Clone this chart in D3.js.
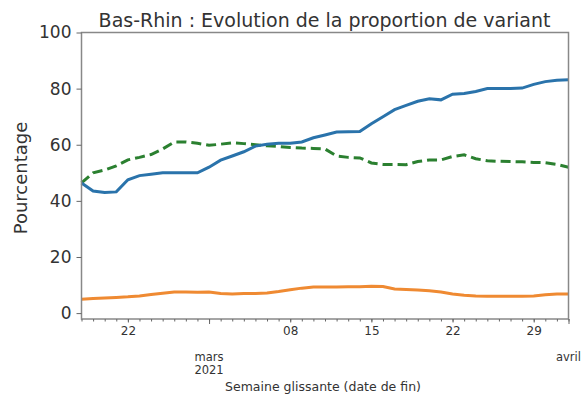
<!DOCTYPE html>
<html><head><meta charset="utf-8">
<script src="https://cdn.jsdelivr.net/npm/d3@7"></script>
<style>body{margin:0;background:#fff}svg{display:block}text{font-family:"DejaVu Sans",sans-serif;fill:#333}</style>
</head><body><svg id="c" width="587" height="400"></svg>
<script>
const startDate = "2021-02-18";
const endDate = "2021-04-01";
const blue = [46.4,43.5,43.0,43.2,47.5,49.0,49.5,50.0,50.0,50.0,50.0,52.0,54.5,56.0,57.5,59.5,60.2,60.5,60.5,61.0,62.5,63.5,64.5,64.6,64.7,67.5,70.0,72.5,74.0,75.5,76.4,76.0,78.0,78.3,79.0,80.0,80.0,80.0,80.2,81.5,82.5,83.0,83.2];
const green = [46.4,50.0,51.0,52.5,54.6,55.5,56.5,58.5,61.0,61.0,60.5,59.8,60.2,60.7,60.4,60.0,59.6,59.4,59.0,58.8,58.7,58.5,56.0,55.5,55.3,53.5,53.0,53.0,52.9,54.0,54.6,54.6,55.8,56.4,55.0,54.3,54.1,54.0,53.9,53.7,53.6,53.0,52.0];
const orange = [4.9,5.2,5.4,5.6,5.8,6.1,6.6,7.1,7.5,7.5,7.4,7.5,7.0,6.8,7.0,7.0,7.2,7.7,8.3,8.9,9.3,9.3,9.3,9.4,9.4,9.6,9.5,8.6,8.4,8.2,8.0,7.5,6.8,6.4,6.1,6.0,6.0,6.0,6.0,6.1,6.5,6.8,6.8];
const yTicks = [0,20,40,60,80,100];
const dayTickDates = ["2021-02-22","2021-03-08","2021-03-15","2021-03-22","2021-03-29"];
const monthTickDates = ["2021-03-01","2021-04-01"];
const monthLabels = [["mars","2021"],["avril"]];
const title = "Bas-Rhin : Evolution de la proportion de variant";
const yLabel = "Pourcentage";
const xLabel = "Semaine glissante (date de fin)";

const parse = d3.utcParse("%Y-%m-%d");
const t0 = parse(startDate);
const dates = blue.map((_, i) => d3.utcDay.offset(t0, i));
const svg = d3.select("#c");
const L = 81.5, R = 568.5, T = 32.5, B = 319;
const x = d3.scaleUtc().domain([t0, parse(endDate)]).range([L, R]);
const y = d3.scaleLinear().domain([-2.1, 100]).range([B, T]);

// lines
const line = d3.line().x((d, i) => x(dates[i])).y(d => y(d)).curve(d3.curveLinear);
const g = svg.append("g");
g.append("path").attr("d", line(orange)).attr("fill","none").attr("stroke","#ef8a32").attr("stroke-width",3);
g.append("path").attr("d", line(green)).attr("fill","none").attr("stroke","#2b8030").attr("stroke-width",3).attr("stroke-dasharray","10,5");
g.append("path").attr("d", line(blue)).attr("fill","none").attr("stroke","#2a73ab").attr("stroke-width",3);

// frame
svg.append("rect").attr("x",L).attr("y",T).attr("width",R-L).attr("height",B-T).attr("fill","none").attr("stroke","#888").attr("stroke-width",1.5);

// y axis
const ya = svg.append("g").attr("transform",`translate(${L},0)`)
  .call(d3.axisLeft(y).tickValues(yTicks).tickSize(5).tickPadding(5));
ya.select(".domain").remove();
ya.selectAll("line").attr("stroke","#666");
ya.selectAll("text").style("font-size","17px").attr("fill","#333");

// x axis minor daily ticks
const xa = svg.append("g").attr("transform",`translate(0,${B})`)
  .call(d3.axisBottom(x).ticks(d3.utcDay.every(1)).tickSize(2.5).tickFormat(""));
xa.select(".domain").remove();
xa.selectAll("line").attr("stroke","#666");
// day labels
const xd = svg.append("g").attr("transform",`translate(0,${B})`)
  .call(d3.axisBottom(x).tickValues(dayTickDates.map(parse)).tickSize(3.5).tickPadding(4).tickFormat(d3.utcFormat("%d")));
xd.select(".domain").remove();
xd.selectAll("line").attr("stroke","#666");
xd.selectAll("text").style("font-size","12px").attr("fill","#444");
// month labels
const xm = svg.append("g").attr("transform",`translate(0,${B})`)
  .call(d3.axisBottom(x).tickValues(monthTickDates.map(parse)).tickSize(5).tickFormat(""));
xm.select(".domain").remove();
xm.selectAll("line").attr("stroke","#666");
monthTickDates.forEach((ds, i) => {
  const cx = Math.min(x(parse(ds)), 570);
  const t = svg.append("text").attr("x", cx).attr("y", 361)
    .attr("text-anchor","middle").style("font-size","11.5px").attr("fill","#444");
  monthLabels[i].forEach((s, j) => t.append("tspan").attr("x", cx).attr("dy", j ? "1.1em" : 0).text(s));
});

svg.append("text").attr("x", 324.5).attr("y", 27).attr("text-anchor","middle").style("font-size","19px").attr("fill","#333").text(title);
svg.append("text").attr("transform","translate(27,178) rotate(-90)").attr("text-anchor","middle").style("font-size","18px").attr("fill","#333").text(yLabel);
svg.append("text").attr("x", 323).attr("y", 391).attr("text-anchor","middle").style("font-size","12.5px").attr("fill","#444").text(xLabel);
</script></body></html>
